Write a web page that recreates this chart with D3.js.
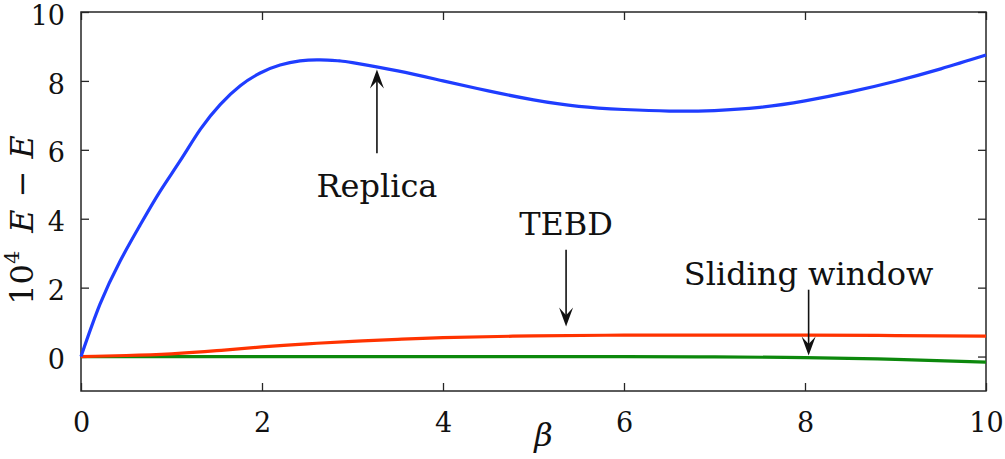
<!DOCTYPE html>
<html>
<head>
<meta charset="utf-8">
<script src="https://cdn.jsdelivr.net/npm/d3@7"></script>
<style>
  body { margin: 0; background: #fff; }
  svg { display: block; }
  text { font-family: "DejaVu Serif", "Liberation Serif", "Times New Roman", serif; }
  .tick text { font-size: 27px; fill: #111; }
  .tick line { stroke: #262626; stroke-width: 1.3; }
</style>
</head>
<body>
<script>
// values (beta, 10^4 dE)
const betaReplica = [0, 0.21, 0.43, 0.65, 0.87, 1.10, 1.32, 1.54, 1.76, 1.98, 2.20, 2.42, 2.64, 2.86, 3.0, 3.5, 4.0, 4.5, 5.0, 5.5, 6.0, 6.5, 7.0, 7.5, 8.0, 8.5, 9.0, 9.5, 10]
const replica = [0, 1.52, 2.76, 3.80, 4.78, 5.70, 6.60, 7.32, 7.86, 8.23, 8.46, 8.58, 8.61, 8.58, 8.53, 8.29, 8.00, 7.71, 7.45, 7.26, 7.17, 7.125, 7.14, 7.23, 7.42, 7.68, 7.99, 8.35, 8.75]

const betaTebd = [0, 0.5, 1.0, 1.5, 2.0, 2.5, 3.0, 3.5, 4.0, 5.0, 6.0, 7.0, 8.0, 9.0, 10]
const tebd = [0, 0.03, 0.08, 0.17, 0.28, 0.37, 0.44, 0.50, 0.55, 0.60, 0.62, 0.62, 0.62, 0.61, 0.59]

const betaSliding = [0, 2, 4, 6, 7, 8, 9, 10]
const sliding = [0, 0, 0, 0, -0.01, -0.03, -0.08, -0.16]

const xTicks = [0, 2, 4, 6, 8, 10]
const yTicks = [0, 2, 4, 6, 8, 10]

// annotations: label, beta, label baseline, arrow start, arrow tip
const annLabels = ['Replica', 'TEBD', 'Sliding window']
const annBeta = [3.27, 5.36, 8.04]
const annTextY = [4.64, 3.54, 2.09]
const annFrom = [5.9, 3.1, 1.94]
const annTo = [8.33, 0.87, 0.03]

const width = 1005
const height = 459
const serif = '"DejaVu Serif", "Liberation Serif", "Times New Roman", serif'

const x = d3.scaleLinear().domain([0, 10]).range([81, 986])
const y = d3.scaleLinear().domain([-1, 10]).range([391, 12])

const svg = d3.select('body').append('svg').attr('width', width).attr('height', height)

// inward ticks on all four sides
const tk = 8
svg.append('g').attr('transform', `translate(0,${y(-1)})`)
    .call(d3.axisBottom(x).tickValues(xTicks).tickSizeInner(-tk).tickSizeOuter(0).tickPadding(tk + 14))
svg.append('g').attr('transform', `translate(0,${y(10)})`)
    .call(d3.axisTop(x).tickValues(xTicks).tickSizeInner(-tk).tickSizeOuter(0).tickFormat(''))
const gy = svg.append('g').attr('transform', `translate(${x(0)},0)`)
    .call(d3.axisLeft(y).tickValues(yTicks).tickSizeInner(-tk).tickSizeOuter(0).tickPadding(tk + 8))
svg.append('g').attr('transform', `translate(${x(10)},0)`)
    .call(d3.axisRight(y).tickValues(yTicks).tickSizeInner(-tk).tickSizeOuter(0).tickFormat(''))
svg.selectAll('.domain').remove()
svg.selectAll('g').attr('font-family', serif)
svg.selectAll('.tick text').attr('fill', '#111')
svg.selectAll('.tick line').attr('stroke', '#262626')
gy.selectAll('.tick text').attr('dy', '0.45em')

svg.append('rect')
    .attr('x', x(0)).attr('y', y(10))
    .attr('width', x(10) - x(0)).attr('height', y(-1) - y(10))
    .attr('fill', 'none').attr('stroke', '#262626').attr('stroke-width', 1.5)

const line = d3.line().x(d => x(d[0])).y(d => y(d[1])).curve(d3.curveNatural)

const curves = [
    [betaReplica, replica, '#1f3dff'],
    [betaTebd, tebd, '#ff3300'],
    [betaSliding, sliding, '#0c880c']
]
curves.slice().reverse().forEach(c => {
    svg.append('path')
        .datum(c[0].map((b, i) => [b, c[1][i]]))
        .attr('d', line)
        .attr('fill', 'none')
        .attr('stroke', c[2])
        .attr('stroke-width', 3.2)
        .attr('stroke-linejoin', 'round')
})

// arrows + labels
annLabels.forEach((lab, i) => {
    const ax = x(annBeta[i])
    const y0 = y(annFrom[i])
    const y1 = y(annTo[i])
    const dir = y1 < y0 ? -1 : 1
    const headLen = 19
    svg.append('line')
        .attr('x1', ax).attr('y1', y0).attr('x2', ax).attr('y2', y1 - dir * 8)
        .attr('stroke', '#111').attr('stroke-width', 1.6)
    svg.append('path')
        .attr('d', `M${ax},${y1} L${ax - 7},${y1 - dir * headLen} L${ax},${y1 - dir * headLen * 0.6} L${ax + 7},${y1 - dir * headLen} Z`)
        .attr('fill', '#111')
    svg.append('text')
        .attr('x', ax).attr('y', y(annTextY[i]))
        .attr('text-anchor', 'middle')
        .attr('font-family', serif)
        .attr('font-size', 32)
        .attr('fill', '#111')
        .text(lab)
})

// axis labels
svg.append('text')
    .attr('x', x(5) + 10).attr('y', 446)
    .attr('text-anchor', 'middle')
    .attr('font-family', serif)
    .attr('font-style', 'italic')
    .attr('font-size', 32)
    .attr('fill', '#111')
    .text('β')

const yl = svg.append('text')
    .attr('transform', 'translate(33,220) rotate(-90)')
    .attr('text-anchor', 'middle')
    .attr('font-family', serif)
    .attr('font-size', 32)
    .attr('fill', '#111')
yl.append('tspan').text('10')
yl.append('tspan').attr('font-size', 21).attr('dy', -14).text('4')
yl.append('tspan').attr('dy', 14).attr('font-style', 'italic').attr('dx', 18).text('E')
yl.append('tspan').attr('dx', 12).text('−')
yl.append('tspan').attr('dx', 12).attr('font-style', 'italic').text('E')
</script>
</body>
</html>
